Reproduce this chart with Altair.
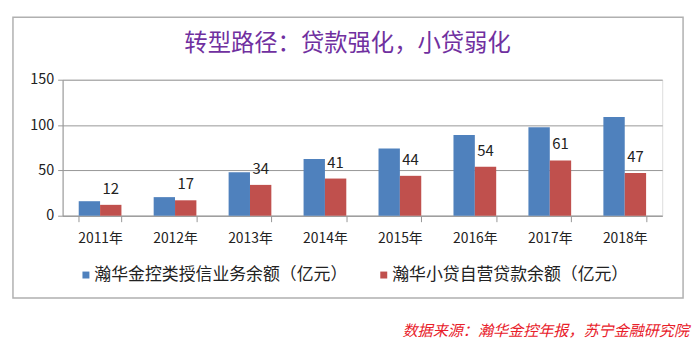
import altair as alt
import pandas as pd

years = ["2011年", "2012年", "2013年", "2014年", "2015年", "2016年", "2017年", "2018年"]
series = ["瀚华金控类授信业务余额（亿元）", "瀚华小贷自营贷款余额（亿元）"]
credit = [16, 20.5, 48, 62.5, 74, 89, 97.5, 109]
loans = [12, 17, 34, 41, 44, 54, 61, 47]
colors = ["#4F81BD", "#C0504D"]
title_text = "转型路径：贷款强化，小贷弱化"
source_text = "数据来源：瀚华金控年报，苏宁金融研究院"
yticks = [0, 50, 100, 150]

rows = []
for i, y in enumerate(years):
    rows.append({"year": y, "series": series[0], "value": credit[i]})
    rows.append({"year": y, "series": series[1], "value": loans[i]})
df = pd.DataFrame(rows)

FONT = "Noto Sans CJK SC"
GRAY = "#979797"

yscale = alt.Scale(domain=[0, 150], nice=False, zero=True, padding=0)
xscale = alt.Scale(domain=years, paddingInner=0.43, paddingOuter=0.215)

xenc = alt.X("year:N", sort=years, scale=xscale,
             axis=alt.Axis(title=None, labelAngle=0, labelFontSize=14, labelColor="#222",
                           tickBand="extent", domainColor=GRAY, tickColor=GRAY, tickSize=6,
                           labelPadding=10, grid=False))
yenc = alt.Y("value:Q", scale=yscale,
             axis=alt.Axis(values=yticks, title=None, gridColor=GRAY, domainColor=GRAY,
                           tickColor=GRAY, tickSize=5, labelFontSize=14.5, labelColor="#222",
                           labelPadding=4))

base = alt.Chart(df)

bars = base.mark_bar().encode(
    x=xenc,
    xOffset=alt.XOffset("series:N", sort=series),
    y=yenc,
    color=alt.Color("series:N", sort=series,
                    scale=alt.Scale(domain=series, range=colors),
                    legend=alt.Legend(title=None, orient="none", legendX=15, legendY=188,
                                      direction="horizontal", symbolType="square",
                                      symbolSize=49, symbolStrokeWidth=0, labelFontSize=17,
                                      labelColor="#222", labelOffset=0, columnPadding=28,
                                      labelLimit=400)),
)

labels = base.transform_filter(alt.datum.series == series[1]).mark_text(
    baseline="middle", dy=-16, fontSize=15, color="#222"
).encode(
    x=alt.X("year:N", sort=years, scale=xscale),
    xOffset=alt.XOffset("series:N", sort=series),
    y=alt.Y("value:Q", scale=yscale),
    text=alt.Text("value:Q"),
)

box = alt.Chart(pd.DataFrame({"k": [0]})).mark_rect(
    fill=None, stroke="#b0b0b0", strokeWidth=1.5
).encode(x=alt.value(-50), x2=alt.value(625), y=alt.value(-63), y2=alt.value(220))

title = alt.Chart(pd.DataFrame({"t": [title_text]})).mark_text(
    fontSize=23.5, color="#7030A0", align="center", baseline="middle"
).encode(x=alt.value(287), y=alt.value(-36), text="t:N")

source = alt.Chart(pd.DataFrame({"t": [source_text]})).mark_text(
    fontSize=15.2, color="#E8202A", fontStyle="italic", align="right", baseline="middle"
).encode(x=alt.value(631), y=alt.value(253), text="t:N")

chart = alt.layer(box, bars, labels, title, source).properties(
    width=604, height=137,
    autosize=alt.AutoSizeParams(type="none"),
    padding={"left": 55, "top": 71, "right": 30, "bottom": 130},
).configure_view(stroke=None).configure(font=FONT)

chart.save("out.html", embed_options={"renderer": "svg", "actions": False})
